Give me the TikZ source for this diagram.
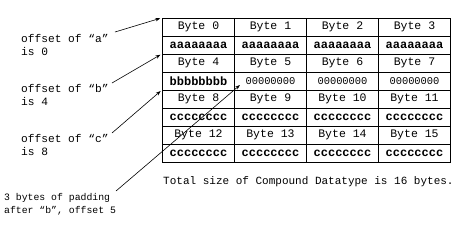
\documentclass[tikz,border=0pt]{standalone}
\usepackage{fontspec}
\setmainfont{Liberation Mono}
\usetikzlibrary{arrows.meta}
\begin{document}
\begin{tikzpicture}[x=1pt,y=-1pt,
  cell/.style={draw, line width=0.6pt, minimum width=72pt, minimum height=18pt, inner sep=0pt, anchor=center},
  bytetxt/.style={font=\fontsize{11.5}{13}\selectfont},
  datatxt/.style={font=\fontsize{12}{13}\selectfont\bfseries},
  padtxt/.style={font=\fontsize{10.4}{13}\selectfont},
  lbl/.style={font=\fontsize{11.2}{13}\selectfont, align=left, inner sep=0pt, anchor=west},
  ptr/.style={line width=0.6pt, -{Stealth[length=5pt,width=3.5pt]}}
]
\useasboundingbox (0,0) rectangle (469,226);
% table
\foreach \r/\a/\b/\c/\d/\st in {
  0/Byte 0/Byte 1/Byte 2/Byte 3/bytetxt,
  1/aaaaaaaa/aaaaaaaa/aaaaaaaa/aaaaaaaa/datatxt,
  2/Byte 4/Byte 5/Byte 6/Byte 7/bytetxt,
  4/Byte 8/Byte 9/Byte 10/Byte 11/bytetxt,
  5/cccccccc/cccccccc/cccccccc/cccccccc/datatxt,
  6/Byte 12/Byte 13/Byte 14/Byte 15/bytetxt,
  7/cccccccc/cccccccc/cccccccc/cccccccc/datatxt}{
  \node[cell,\st] (c\r-0) at (198.5,27+18*\r) {\a};
  \node[cell,\st] (c\r-1) at (270.5,27+18*\r) {\b};
  \node[cell,\st] (c\r-2) at (342.5,27+18*\r) {\c};
  \node[cell,\st] (c\r-3) at (414.5,27+18*\r) {\d};
}
\node[cell,datatxt] (c3-0) at (198.5,81) {bbbbbbbb};
\node[cell,padtxt] (c3-1) at (270.5,81) {00000000};
\node[cell,padtxt] (c3-2) at (342.5,81) {00000000};
\node[cell,padtxt] (c3-3) at (414.5,81) {00000000};
% labels
\node[lbl] (la) at (21,44.5) {offset of “a”\\is 0};
\node[lbl] (lb) at (21,94.5) {offset of “b”\\is 4};
\node[lbl] (lc) at (21,145) {offset of “c”\\is 8};
\node[lbl, font=\fontsize{9.8}{13}\selectfont] (lp) at (4,204.5) {3 bytes of padding\\after “b”, offset 5};
\node[lbl, font=\fontsize{11}{13}\selectfont] (tot) at (163,182) {Total size of Compound Datatype is 16 bytes.};
% arrow starts
\coordinate (sa) at (115,32);
\coordinate (sb) at (112,83);
\coordinate (sc) at (112,133);
\coordinate (sp) at (116,191);
\coordinate (tp) at (240,85);
\draw[ptr, shorten >=2pt] (sa) -- (c0-0.north west);
\draw[ptr, shorten >=2pt] (sb) -- (c2-0.north west);
\draw[ptr, shorten >=2pt] (sc) -- (c4-0.north west);
\draw[ptr] (sp) -- (tp);
\end{tikzpicture}
\end{document}
